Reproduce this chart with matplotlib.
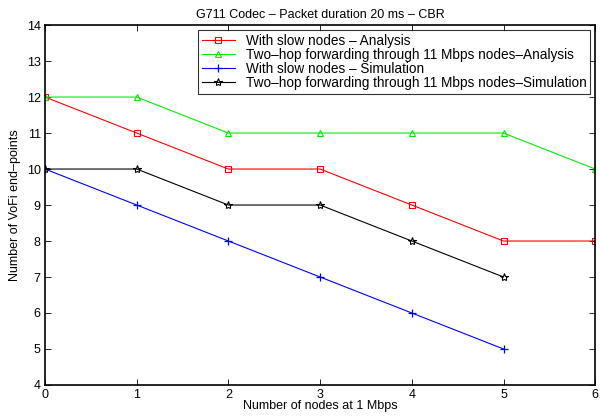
import numpy as np
import matplotlib.pyplot as plt

plt.rcParams['font.family'] = ['Liberation Sans', 'DejaVu Sans']

x_full = [0, 1, 2, 3, 4, 5, 6]
x_sim = [0, 1, 2, 3, 4, 5]
slow_analysis = [12, 11, 10, 10, 9, 8, 8]
twohop_analysis = [12, 12, 11, 11, 11, 11, 10]
slow_sim = [10, 9, 8, 7, 6, 5]
twohop_sim = [10, 10, 9, 9, 8, 7]

labels = ['With slow nodes \u2013 Analysis',
          'Two\u2013hop forwarding through 11 Mbps nodes\u2013Analysis',
          'With slow nodes \u2013 Simulation',
          'Two\u2013hop forwarding through 11 Mbps nodes\u2013Simulation']

fig = plt.figure(figsize=(6, 4.18), dpi=100)
ax = fig.add_axes([0.075, 0.079, 0.917, 0.861])

ax.plot(x_full, slow_analysis, color='red', lw=0.8, marker='s', ms=4.5,
        mfc='none', mec='red', mew=0.8, label=labels[0])
ax.plot(x_full, twohop_analysis, color='#00ee00', lw=0.8, marker='^', ms=5,
        mfc='none', mec='#00ee00', mew=0.8, label=labels[1])
ax.plot(x_sim, slow_sim, color='blue', lw=0.8, marker='+', ms=6,
        mew=0.9, label=labels[2])
ax.plot(x_sim, twohop_sim, color='black', lw=0.8, marker='*', ms=6,
        mfc='none', mec='black', mew=0.8, label=labels[3])

ax.set_xlim(0, 6)
ax.set_ylim(4, 14)
ax.set_xticks(range(0, 7))
ax.set_yticks(range(4, 15))
ax.tick_params(direction='in', top=True, right=True, labelsize=9, length=4, width=0.6, pad=3)
for s in ax.spines.values():
    s.set_linewidth(1.2)

ax.set_xlabel('Number of nodes at 1 Mbps', fontsize=9, labelpad=-1)
ax.set_ylabel('Number of VoFi end\u2013points', fontsize=9, labelpad=4)
ax.set_title('G711 Codec \u2013 Packet duration 20 ms \u2013 CBR', fontsize=9, pad=5)

leg = ax.legend(loc='upper right', fontsize=9.8, frameon=True, fancybox=False,
                edgecolor='black', borderpad=0.3, labelspacing=0.0,
                handlelength=2.4, handletextpad=0.8, borderaxespad=0.35)
leg.get_frame().set_linewidth(0.8)

fig.savefig('out.png', dpi=100)
